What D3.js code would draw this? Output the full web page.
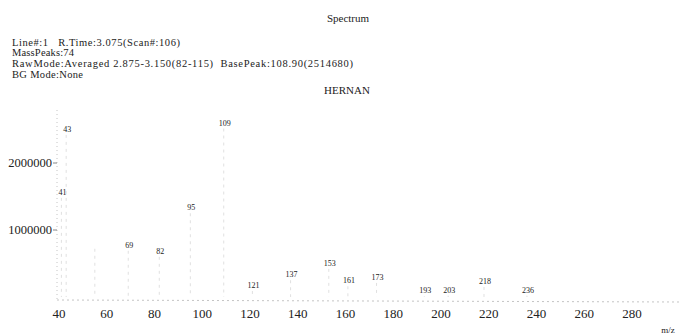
<!DOCTYPE html>
<html>
<head>
<meta charset="utf-8">
<script src="https://cdn.jsdelivr.net/npm/d3@7"></script>
<style>
  body { margin: 0; background: #fff; }
  svg text { font-family: "Liberation Serif", "Times New Roman", serif; fill: #222; }
  .hdr { white-space: pre; }
</style>
</head>
<body>
<svg width="682" height="335"></svg>
<script>
// peak data
var mz        = [41, 43, 55, 69, 82, 95, 109, 121, 137, 153, 161, 173, 193, 203, 218, 236];
var intensity = [1480000, 2420000, 720000, 690000, 600000, 1250000, 2514680, 90000, 250000, 420000, 160000, 210000, 10000, 20000, 150000, 20000];
var labelled  = [41, 43, 69, 82, 95, 109, 121, 137, 153, 161, 173, 193, 203, 218, 236];
var xTicks = [40, 60, 80, 100, 120, 140, 160, 180, 200, 220, 240, 260, 280];
var yTicks = [1000000, 2000000];
var header = [
  "Line#:1   R.Time:3.075(Scan#:106)",
  "MassPeaks:74",
  "RawMode:Averaged 2.875-3.150(82-115)  BasePeak:108.90(2514680)",
  "BG Mode:None"
];

// widths the header lines take up in the print
var headerWidth = [168, 62, 341, 71];

var svg = d3.select("svg");

var x = d3.scaleLinear().domain([40, 280]).range([59, 632]);
var y = d3.scaleLinear().domain([0, 2600000]).range([297, 122.8]);

// title and header block
svg.append("text").attr("x", 348).attr("y", 22).attr("text-anchor", "middle")
  .style("font-size", "11px").text("Spectrum");

svg.selectAll(".hdr").data(header).enter().append("text")
  .attr("class", "hdr")
  .attr("x", 12)
  .attr("y", function(d, i) { return 45.5 + i * 10.8; })
  .attr("textLength", function(d, i) { return headerWidth[i]; })
  .attr("lengthAdjust", "spacing")
  .style("font-size", "10.5px")
  .text(function(d) { return d; });

svg.append("text").attr("x", 347).attr("y", 94).attr("text-anchor", "middle")
  .style("font-size", "11px").text("HERNAN");

// faded axes, like the scanned print
svg.append("line").attr("x1", 57).attr("x2", 57).attr("y1", 110).attr("y2", 300)
  .attr("stroke", "#c4c4c4").attr("stroke-dasharray", "1,3");
svg.append("line").attr("x1", 57).attr("x2", 680).attr("y1", 300).attr("y2", 302)
  .attr("stroke", "#c4c4c4").attr("stroke-dasharray", "2,3");

svg.selectAll(".ytick").data(yTicks).enter().append("line")
  .attr("x1", 53).attr("x2", 57)
  .attr("y1", function(d) { return y(d); }).attr("y2", function(d) { return y(d); })
  .attr("stroke", "#888");

svg.selectAll(".ylab").data(yTicks).enter().append("text")
  .attr("x", 52).attr("y", function(d) { return y(d) + 4; })
  .attr("text-anchor", "end")
  .style("font-size", "12.5px")
  .text(function(d) { return d; });

svg.selectAll(".xlab").data(xTicks).enter().append("text")
  .attr("x", function(d) { return x(d); }).attr("y", 318)
  .attr("text-anchor", "middle")
  .style("font-size", "13px")
  .text(function(d) { return d; });

svg.append("text").attr("x", 668).attr("y", 333).attr("text-anchor", "middle")
  .style("font-size", "9px").text("m/z");

// peaks (very faint in the original)
var peaks = mz.map(function(m, i) { return { mz: m, v: intensity[i] }; });

svg.selectAll(".bar").data(peaks).enter().append("line")
  .attr("x1", function(d) { return x(d.mz); }).attr("x2", function(d) { return x(d.mz); })
  .attr("y1", function(d) { return y(d.v); }).attr("y2", y(0))
  .attr("stroke", "#e0e0e0").attr("stroke-width", 1)
  .attr("stroke-dasharray", "3,4");

svg.selectAll(".plab").data(peaks.filter(function(d) { return labelled.indexOf(d.mz) >= 0; }))
  .enter().append("text")
  .attr("x", function(d) { return x(d.mz) + 1; })
  .attr("y", function(d) { return y(d.v) - 3; })
  .attr("text-anchor", "middle")
  .style("font-size", "8px")
  .text(function(d) { return d.mz; });
</script>
</body>
</html>
